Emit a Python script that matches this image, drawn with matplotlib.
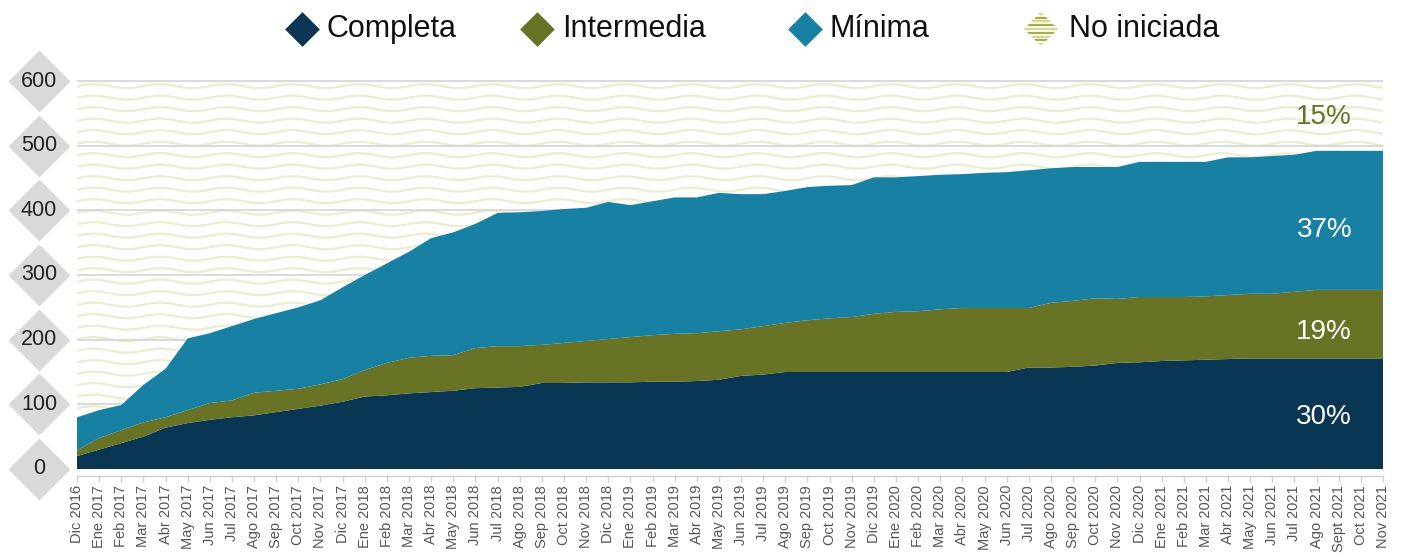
import numpy as np
import matplotlib
matplotlib.use("Agg")
import matplotlib.pyplot as plt
from matplotlib.lines import Line2D
from matplotlib.patches import Polygon
import matplotlib.transforms as mtransforms

plt.rcParams['font.family'] = ['Liberation Sans', 'DejaVu Sans']

# ---------------- data ----------------
months = ["Dic 2016", "Ene 2017", "Feb 2017", "Mar 2017", "Abr 2017", "May 2017", "Jun 2017",
          "Jul 2017", "Ago 2017", "Sep 2017", "Oct 2017", "Nov 2017", "Dic 2017", "Ene 2018",
          "Feb 2018", "Mar 2018", "Abr 2018", "May 2018", "Jun 2018", "Jul 2018", "Ago 2018",
          "Sep 2018", "Oct 2018", "Nov 2018", "Dic 2018", "Ene 2019", "Feb 2019", "Mar 2019",
          "Abr 2019", "May 2019", "Jun 2019", "Jul 2019", "Ago 2019", "Sep 2019", "Oct 2019",
          "Nov 2019", "Dic 2019", "Ene 2020", "Feb 2020", "Mar 2020", "Abr 2020", "May 2020",
          "Jun 2020", "Jul 2020", "Ago 2020", "Sep 2020", "Oct 2020", "Nov 2020", "Dic 2020",
          "Ene 2021", "Feb 2021", "Mar 2021", "Abr 2021", "May 2021", "Jun 2021", "Jul 2021",
          "Ago 2021", "Sept 2021", "Oct 2021", "Nov 2021"]

completa = [20, 30, 40, 50, 64, 71, 76, 80, 83, 88,
            93, 98, 104, 112, 114, 117, 119, 121, 125, 126,
            127, 133, 133, 134, 134, 134, 135, 135, 136, 138,
            144, 146, 150, 150, 150, 150, 150, 150, 150, 150,
            150, 150, 150, 157, 157, 158, 160, 164, 165, 167,
            168, 169, 170, 171, 171, 171, 171, 171, 171, 171]

intermedia = [9, 18, 20, 22, 16, 20, 26, 26, 35, 33,
              31, 33, 35, 41, 50, 55, 56, 55, 62, 64,
              63, 59, 62, 64, 67, 70, 72, 74, 74, 75,
              72, 75, 76, 80, 83, 85, 90, 93, 94, 97,
              99, 99, 99, 92, 100, 102, 104, 99, 101, 99,
              98, 98, 99, 100, 100, 103, 106, 106, 106, 106]

minima = [51, 43, 39, 58, 75, 111, 108, 115, 114, 120,
          126, 130, 142, 147, 154, 164, 182, 190, 192, 206,
          207, 207, 207, 206, 212, 204, 207, 211, 210, 214,
          209, 204, 204, 206, 205, 204, 211, 208, 209, 208,
          207, 209, 210, 213, 208, 207, 203, 204, 209, 209,
          209, 208, 213, 211, 213, 212, 215, 215, 215, 215]

total_universo = 595  # extent of the "No iniciada" band

series_names = ["Completa", "Intermedia", "Mínima", "No iniciada"]
pct_labels = ["30%", "19%", "37%", "15%"]
pct_label_y = [80, 212, 369, 544]
y_ticks = [0, 100, 200, 300, 400, 500, 600]

# ---------------- style ----------------
c_comp = "#093652"
c_inter = "#687326"
c_min = "#1881a3"
c_wave = "#ecedcf"
c_grid = "#d4d4d4"

W, H = 1401, 558
fig = plt.figure(figsize=(W / 100, H / 100), dpi=100)
y_top = 602
px_per_unit = (469 - 81) / 600.0
ax_h_px = y_top * px_per_unit
ax = fig.add_axes([77 / W, (H - 469) / H, 1306 / W, ax_h_px / H])

x = np.arange(len(months))
ax.set_xlim(0, len(months) - 1)
ax.set_ylim(0, y_top)

# wavy "No iniciada" pattern (background band)
xx = np.linspace(0, len(months) - 1, 2000)
step = 11.5 / px_per_unit
amp = 2.0 / px_per_unit
period = 3.0
levels = np.arange(total_universo - 3, 0, -step)
for i, lev in enumerate(levels):
    ax.plot(xx, lev + amp * np.sin(2 * np.pi * xx / period), color=c_wave,
            lw=1.6, zorder=1, solid_capstyle='butt')

# gridlines
ax.set_axisbelow('line')
ax.set_yticks(y_ticks)
ax.yaxis.grid(True, color=c_grid, lw=1.2)
ax.xaxis.grid(False)

# stacked areas
ax.stackplot(x, completa, intermedia, minima, colors=[c_comp, c_inter, c_min],
             lw=0, zorder=3)

# axes cosmetics
for s in ["top", "right", "left"]:
    ax.spines[s].set_visible(False)
ax.spines["bottom"].set_position(("outward", 5))
ax.spines["bottom"].set_color("#d0d0d0")
ax.spines["bottom"].set_linewidth(1.0)
ax.tick_params(axis='y', length=0, labelleft=False)
ax.set_xticks(x)
ax.set_xticklabels(months, rotation=90, fontsize=10.5, color="#555555")
ax.tick_params(axis='x', length=4.5, width=1.0, color="#d0d0d0", pad=2)

# y tick labels inside grey diamonds
diamond = [(-1, 0), (0, 1), (1, 0), (0, -1)]
blend = mtransforms.blended_transform_factory(ax.transAxes, ax.transData)
xd = (39 - 77) / 1306
ax.plot([xd] * len(y_ticks), y_ticks, ls='none', marker=diamond, ms=44.6,
        mfc="#d9d9d9", mec="none", transform=blend, clip_on=False, zorder=5)
for v in y_ticks:
    ax.text(xd, v, str(v), transform=blend, ha='center', va='center',
            fontsize=15.5, color="#222222", zorder=6, clip_on=False)

# percentage labels at right
pct_colors = ["white", "white", "white", c_inter]
for lab, yv, col in zip(pct_labels, pct_label_y, pct_colors):
    ax.annotate(lab, xy=(len(months) - 1, yv), xytext=(-22.3, 0),
                textcoords='offset points', ha='right', va='center',
                fontsize=20, color=col, zorder=7)

# legend (manual)
leg_y = (H - 29) / H
leg_items = [(302, 326, c_comp), (537, 562, c_inter), (805, 830, c_min), (1041, 1069, None)]
for (dx, tx, col), name in zip(leg_items, series_names):
    if col is not None:
        fig.add_artist(Line2D([dx / W], [leg_y], ls='none', marker=diamond, ms=25,
                              mfc=col, mec='none', transform=fig.transFigure))
    else:
        lax = fig.add_axes([(dx - 17) / W, (H - 46) / H, 34 / W, 34 / H])
        lax.set_xlim(-1, 1)
        lax.set_ylim(-1, 1)
        lax.axis('off')
        clip = Polygon(diamond, closed=True, transform=lax.transData, facecolor='none',
                       edgecolor='none')
        lax.add_patch(clip)
        ys = np.linspace(-0.9, 0.9, 9)
        for k, yy in enumerate(ys):
            ln, = lax.plot([-1, 1], [yy, yy], color=("#a9ae3e" if k % 2 else "#d3d690"),
                           lw=1.6)
            ln.set_clip_path(clip)
    fig.text(tx / W, leg_y, name, ha='left', va='center', fontsize=22, color="#111111")

fig.savefig("out.png", dpi=100)
